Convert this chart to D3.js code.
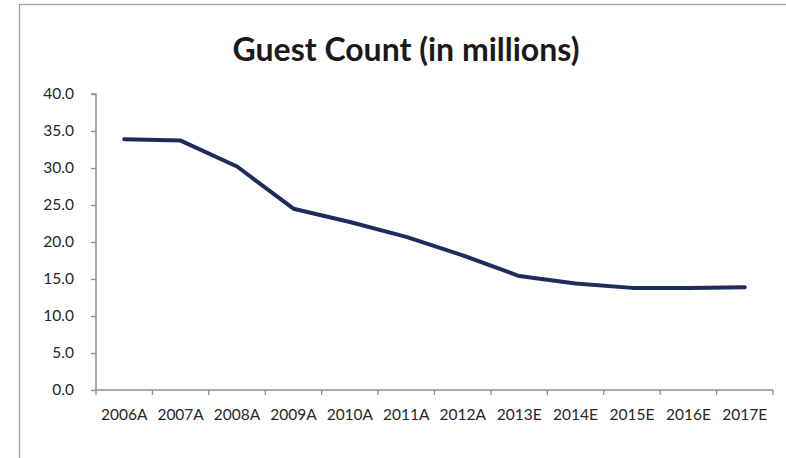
<!DOCTYPE html>
<html><head><meta charset="utf-8">
<script src="https://cdn.jsdelivr.net/npm/d3@7/dist/d3.min.js"></script>
<style>html,body{margin:0;padding:0;background:#fff;}svg{display:block;}</style>
</head><body>
<svg id="c" width="786" height="458"></svg>
<script>
const title = "Guest Count (in millions)";
const categories = ["2006A","2007A","2008A","2009A","2010A","2011A","2012A","2013E","2014E","2015E","2016E","2017E"];
const values = [33.9, 33.7, 30.2, 24.5, 22.7, 20.7, 18.2, 15.4, 14.4, 13.8, 13.8, 13.9];
const yTicks = [0, 5, 10, 15, 20, 25, 30, 35, 40];

(function(){
const svg = d3.select("#c");
const font = "Lato, 'Open Sans', sans-serif";
const axisColor = "#8c8c8c";
const textColor = "#262626";

svg.append("rect").attr("x",19.5).attr("y",4.5).attr("width",900).attr("height",600)
  .attr("fill","none").attr("stroke","#a6a6a6").attr("stroke-width",1.3);

const pl = 96, pr = 773, pt = 94, pb = 390;
const x = d3.scaleBand().domain(categories).range([pl,pr]).padding(0);
const y = d3.scaleLinear().domain([0,40]).range([pb,pt]);

// title
svg.append("text").attr("x",406).attr("y",61).attr("text-anchor","middle")
  .attr("font-family",font).attr("font-weight","bold").attr("font-size",32)
  .attr("fill","#1a1a1a").text(title);

// y axis
const yAxis = d3.axisLeft(y).tickValues(yTicks).tickFormat(d3.format(".1f")).tickSize(5).tickPadding(17);
const gy = svg.append("g").attr("transform",`translate(${pl},0)`).call(yAxis);
gy.select(".domain").attr("stroke",axisColor).attr("stroke-width",1.5).attr("d",`M-5,${pt}H0V${pb}`);
gy.selectAll(".tick line").attr("stroke",axisColor).attr("stroke-width",1.3);
gy.selectAll("text").attr("font-family",font).attr("font-size",15.5).attr("fill",textColor);

// x axis
const xAxis = d3.axisBottom(x).tickSize(0).tickPadding(19);
const gx = svg.append("g").attr("transform",`translate(0,${pb})`).call(xAxis);
gx.select(".domain").attr("stroke",axisColor).attr("stroke-width",1.5).attr("d",`M${pl},0H${pr}`);
gx.selectAll("text").attr("font-family",font).attr("font-size",15.5).attr("fill",textColor);
const bounds = categories.map(c => x(c)).concat([pr]);
gx.selectAll(".bnd").data(bounds).enter().append("line").attr("class","bnd")
  .attr("x1",d=>d).attr("x2",d=>d).attr("y1",0).attr("y2",5)
  .attr("stroke",axisColor).attr("stroke-width",1.3);

// line
const line = d3.line().x((d,i)=>x(categories[i]) + x.bandwidth()/2).y(d=>y(d));
svg.append("path").datum(values).attr("d",line).attr("fill","none")
  .attr("stroke","#1f2a5e").attr("stroke-width",4).attr("stroke-linejoin","round").attr("stroke-linecap","round");
})();
</script>
</body></html>
